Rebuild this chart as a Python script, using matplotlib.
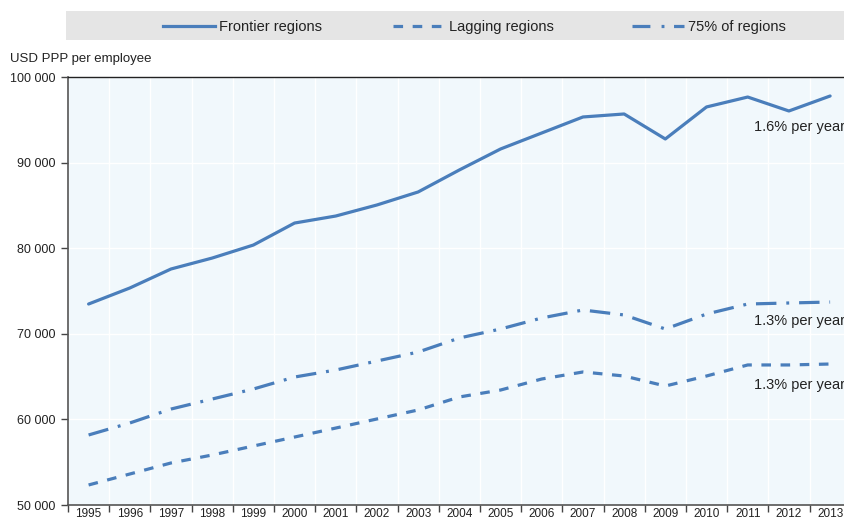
import matplotlib
matplotlib.use("Agg")
import matplotlib.pyplot as plt
from matplotlib.lines import Line2D
from matplotlib.patches import Rectangle
import numpy as np

years = [str(y) for y in range(1995, 2014)]
frontier = [73480, 75350, 77570, 78850, 80370, 82940, 83760, 85050, 86570, 89140,
            91590, 93460, 95330, 95680, 92760, 96500, 97660, 96030, 97780]
pct75 = [58180, 59580, 61210, 62380, 63550, 64950, 65770, 66820, 67870, 69510,
         70560, 71850, 72780, 72200, 70560, 72310, 73480, 73600, 73710]
lagging = [52340, 53620, 54910, 55840, 56890, 57940, 58990, 60050, 61100, 62620,
           63430, 64720, 65540, 65070, 63900, 65070, 66360, 66360, 66470]
series_names = ["Frontier regions", "Lagging regions", "75% of regions"]
annotations = ["1.6% per year", "1.3% per year", "1.3% per year"]
yticks = [50000, 60000, 70000, 80000, 90000, 100000]
ytick_labels = ["50 000", "60 000", "70 000", "80 000", "90 000", "100 000"]

FONT = ["Liberation Sans Narrow", "Liberation Sans", "DejaVu Sans"]
plt.rcParams["font.family"] = FONT
COLOR = "#4a7ebb"
TXT = "#222222"

W, H = 845, 521
fig = plt.figure(figsize=(W / 100, H / 100), dpi=100)
L, R, T, B = 68, 850.7, 77, 505
ax = fig.add_axes([L / W, 1 - B / H, (R - L) / W, (B - T) / H])
ax.set_facecolor("#f1f8fc")

DASH = (3.0, 3.0)
DASHDOT = (6.4, 3.1, 0.9, 3.1)

x = np.arange(len(years))
lw = 2.3
ax.plot(x, frontier, color=COLOR, lw=lw, solid_capstyle="round", zorder=3)
ax.plot(x, lagging, color=COLOR, lw=lw, dashes=DASH, dash_capstyle="butt", zorder=3)
ax.plot(x, pct75, color=COLOR, lw=lw, dashes=DASHDOT, dash_capstyle="butt", zorder=3)

ax.set_xlim(-0.5, len(years) - 0.5)
ax.set_ylim(50000, 100000)

bounds = np.arange(-0.5, len(years), 1.0)
ax.set_xticks(bounds, minor=True)
ax.set_xticks(x)
ax.set_xticklabels(years, fontsize=8.5, color=TXT)
ax.tick_params(axis="x", which="major", length=0, pad=2.5)
ax.tick_params(axis="x", which="minor", length=5, width=1, color="#444444", direction="out")
ax.set_yticks(yticks)
ax.set_yticklabels(ytick_labels, fontsize=9, color=TXT)
ax.tick_params(axis="y", length=5, width=1, color="#444444", direction="out", pad=4)

ax.grid(True, which="minor", axis="x", color="white", lw=1.0, zorder=1)
ax.grid(True, which="major", axis="y", color="white", lw=1.0, zorder=1)
ax.grid(False, which="major", axis="x")

for s in ["left", "bottom"]:
    ax.spines[s].set_color("#555555")
    ax.spines[s].set_linewidth(1.2)
ax.spines["right"].set_visible(False)
ax.spines["top"].set_color("#222222")
ax.spines["top"].set_linewidth(1.0)

# annotations
ann_y = [127, 321, 385]
for txt, py in zip(annotations, ann_y):
    fig.text(754 / W, 1 - py / H, txt, fontsize=10.5, color=TXT,
             ha="left", va="center")

# y-axis title
fig.text(10 / W, 1 - 59 / H, "USD PPP per employee", fontsize=9.5, color=TXT,
         ha="left", va="center")

# legend band
fig.patches.append(Rectangle((66 / W, 1 - 40 / H), (W - 66) / W, 29 / H,
                             transform=fig.transFigure, facecolor="#e5e5e5",
                             edgecolor="none", zorder=0))
leg_y = 1 - 25.5 / H
styles = [dict(), dict(dashes=DASH), dict(dashes=(5.6, 3.5, 0.9, 3.0, 3.5, 0))]
line_x = [(163, 215), (393, 445), (632, 684)]
for name, st, (x0, x1) in zip(series_names, styles, line_x):
    ln = Line2D([x0 / W, x1 / W], [leg_y, leg_y], transform=fig.transFigure,
                color=COLOR, lw=lw, dash_capstyle="butt", **st)
    fig.lines.append(ln)
    fig.text((x1 + 4) / W, 1 - 26.5 / H, name, fontsize=10.5, color=TXT,
             ha="left", va="center")

fig.savefig("out.png", dpi=100)
